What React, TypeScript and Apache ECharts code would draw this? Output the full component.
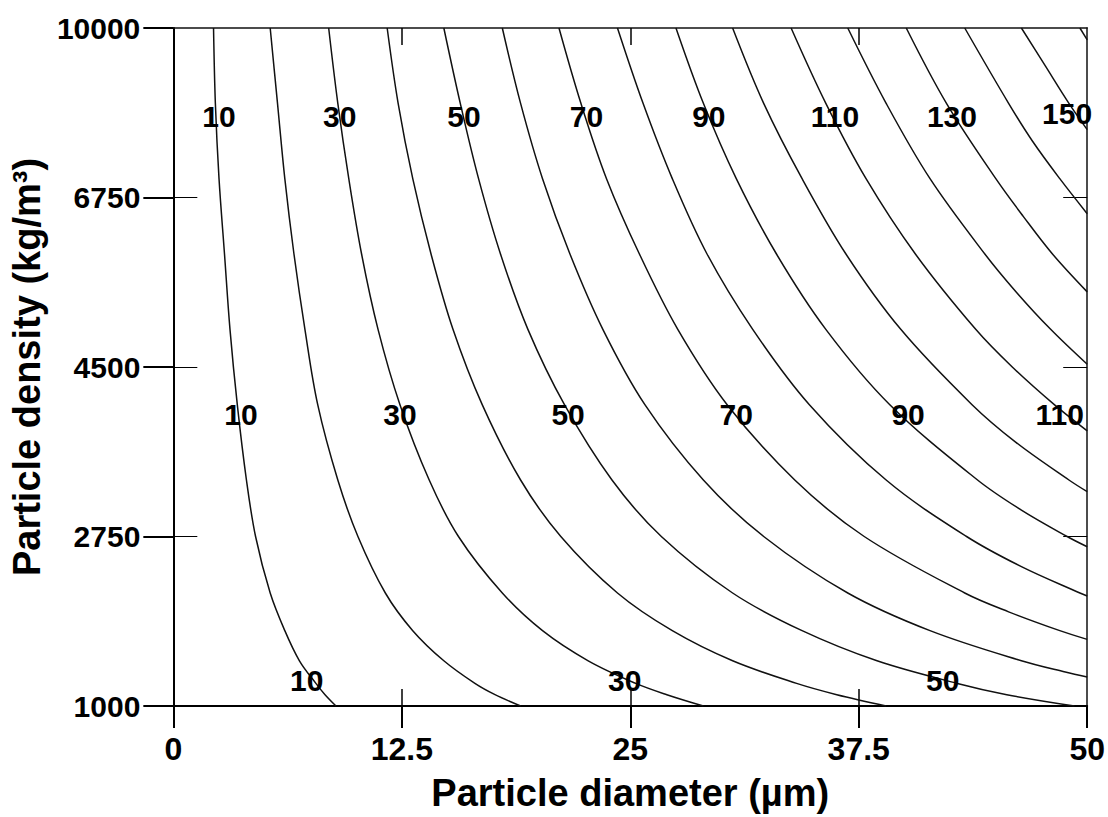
import React, { useEffect, useRef } from "react";
import * as echarts from "echarts";

// ---- axes ----
const xMin = 0;
const xMax = 50;
const xInterval = 12.5;
const innerXTicks = [12.5, 25, 37.5];
const yMin = 1000;
const yMax = 10000;
const yTickValues = [1000, 3250, 5500, 7750, 10000];
const yTickLabels = ["1000", "2750", "4500", "6750", "10000"];
const innerYTicks = [3250, 5500, 7750];

// ---- contour lines: [diameter (µm), density (kg/m³)] ----
const c10 = [[2.2, 10000], [2.3, 9000], [2.5, 8000], [2.8, 7000], [3.1, 6000], [3.5, 5000], [4.0, 4000], [4.5, 3250], [5.3, 2500], [6.1, 2000], [6.9, 1600], [7.8, 1300], [8.3, 1150], [8.9, 1000]];
const c20 = [[5.3, 10000], [5.7, 9000], [6.1, 8000], [6.6, 7000], [7.2, 6000], [7.9, 5000], [9.0, 4000], [10.1, 3250], [11.6, 2500], [13.1, 2000], [14.8, 1600], [16.5, 1300], [17.6, 1150], [19.0, 1000]];
const c30 = [[8.5, 10000], [9.0, 9000], [9.6, 8000], [10.3, 7000], [11.2, 6000], [12.4, 5000], [14.0, 4000], [15.6, 3250], [18.0, 2500], [20.2, 2000], [22.7, 1600], [25.3, 1300], [27.0, 1150], [29.0, 1000]];
const c40 = [[11.7, 10000], [12.3, 9000], [13.1, 8000], [14.1, 7000], [15.3, 6000], [16.9, 5000], [19.0, 4000], [21.2, 3250], [24.3, 2500], [27.3, 2000], [30.6, 1600], [34.1, 1300], [36.3, 1150], [39.0, 1000]];
const c50 = [[14.8, 10000], [15.7, 9000], [16.7, 8000], [17.9, 7000], [19.4, 6000], [21.4, 5000], [24.0, 4000], [26.7, 3250], [30.6, 2500], [34.4, 2000], [38.5, 1600], [42.9, 1300], [45.6, 1150], [49.3, 1000]];
const c60 = [[18.0, 10000], [19.0, 9000], [20.2, 8000], [21.7, 7000], [23.5, 6000], [25.8, 5000], [29.0, 4000], [32.3, 3250], [36.9, 2500], [41.4, 2000], [46.4, 1600], [48.8, 1450], [50, 1384]];
const c70 = [[21.1, 10000], [22.3, 9000], [23.7, 8000], [25.5, 7000], [27.6, 6000], [30.3, 5000], [34.0, 4000], [37.8, 3250], [43.3, 2500], [45.7, 2250], [48.5, 2000], [50, 1884]];
const c80 = [[24.3, 10000], [25.7, 9000], [27.3, 8000], [29.2, 7000], [31.7, 6000], [34.8, 5000], [39.0, 4000], [43.4, 3250], [46.4, 2850], [49.6, 2500], [50, 2460]];
const c90 = [[27.5, 10000], [29.0, 9000], [30.8, 8000], [33.0, 7000], [35.7, 6000], [39.2, 5000], [44.0, 4000], [46.4, 3600], [48.9, 3250], [50, 3114]];
const c100 = [[30.6, 10000], [32.3, 9000], [34.4, 8000], [36.8, 7000], [39.8, 6000], [43.7, 5000], [46.1, 4500], [49.0, 4000], [50, 3845]];
const c110 = [[33.8, 10000], [35.7, 9000], [37.9, 8000], [40.6, 7000], [43.9, 6000], [45.9, 5500], [48.2, 5000], [50, 4652]];
const c120 = [[36.9, 10000], [39.0, 9000], [41.4, 8000], [44.4, 7000], [46.1, 6500], [48.0, 6000], [50, 5536]];
const c130 = [[40.1, 10000], [42.3, 9000], [45.0, 8000], [46.5, 7500], [48.1, 7000], [50, 6497]];
const c140 = [[43.3, 10000], [45.7, 9000], [47.0, 8500], [48.5, 8000], [50, 7535]];
const c150 = [[46.4, 10000], [47.7, 9500], [49.0, 9000], [50, 8651]];
const c160 = [[49.6, 10000], [50, 9842]];

const contourLevels = [10, 20, 30, 40, 50, 60, 70, 80, 90, 100, 110, 120, 130, 140, 150, 160];
const contourLines = [c10, c20, c30, c40, c50, c60, c70, c80, c90, c100, c110, c120, c130, c140, c150, c160];

// ---- contour labels: [diameter, density, level] ----
const contourLabels = [
  [2.5, 8830, 10], [9.1, 8830, 30], [15.9, 8830, 50], [22.6, 8830, 70],
  [29.3, 8830, 90], [36.2, 8830, 110], [42.6, 8830, 130], [48.9, 8870, 150],
  [3.7, 4870, 10], [12.4, 4870, 30], [21.6, 4870, 50], [30.8, 4870, 70],
  [40.2, 4870, 90], [48.5, 4870, 110],
  [7.3, 1340, 10], [24.7, 1340, 30], [42.1, 1340, 50],
];

const FONT = "'Liberation Sans', Arial, Helvetica, sans-serif";

export default function App() {
  const ref = useRef<HTMLDivElement>(null);

  useEffect(() => {
    document.body.style.margin = "0";
    const chart = echarts.init(ref.current as HTMLDivElement, null, { renderer: "svg" });

    const lineSeries = contourLines.map((pts, i) => ({
      name: String(contourLevels[i]),
      type: "line",
      data: pts,
      showSymbol: false,
      symbol: "none",
      smooth: 0.35,
      clip: true,
      silent: true,
      lineStyle: { color: "#111", width: 1.5 },
      z: 2,
    }));

    const option: any = {
      animation: false,
      backgroundColor: "#fff",
      grid: { left: 171, right: 13, top: 28, bottom: 105, containLabel: false },
      xAxis: [
        {
          type: "value",
          min: xMin,
          max: xMax,
          interval: xInterval,
          position: "bottom",
          axisLine: { show: true, onZero: false, lineStyle: { color: "#000", width: 2 } },
          axisTick: { show: true, inside: false, length: 22, lineStyle: { color: "#000", width: 2 } },
          axisLabel: { fontSize: 32, fontWeight: "bold", fontFamily: FONT, color: "#000", margin: 27 },
          splitLine: { show: false },
          name: "Particle diameter (µm)",
          nameLocation: "middle",
          nameGap: 68,
          nameTextStyle: { fontSize: 38, fontWeight: "bold", fontFamily: FONT, color: "#000" },
        },
        {
          type: "value",
          min: xMin,
          max: xMax,
          position: "bottom",
          axisLine: { show: false },
          axisTick: { show: true, inside: true, length: 17, customValues: innerXTicks, lineStyle: { color: "#000", width: 1.5 } },
          axisLabel: { show: false },
          splitLine: { show: false },
        },
        {
          type: "value",
          min: xMin,
          max: xMax,
          position: "top",
          axisLine: { show: true, onZero: false, lineStyle: { color: "#111", width: 1.5 } },
          axisTick: { show: true, inside: true, length: 17, customValues: innerXTicks, lineStyle: { color: "#000", width: 1.5 } },
          axisLabel: { show: false },
          splitLine: { show: false },
        },
      ],
      yAxis: [
        {
          type: "value",
          min: yMin,
          max: yMax,
          position: "left",
          axisLine: { show: true, onZero: false, lineStyle: { color: "#000", width: 2 } },
          axisTick: { show: true, inside: false, length: 30, customValues: yTickValues, lineStyle: { color: "#000", width: 2 } },
          axisLabel: {
            customValues: yTickValues,
            formatter: (v: number) => {
              const i = yTickValues.indexOf(v);
              return i >= 0 ? yTickLabels[i] : "";
            },
            fontSize: 30,
            fontWeight: "bold",
            fontFamily: FONT,
            color: "#000",
            margin: 33,
          },
          splitLine: { show: false },
          name: "Particle density (kg/m³)",
          nameLocation: "middle",
          nameRotate: 90,
          nameGap: 124,
          nameTextStyle: { fontSize: 38, fontWeight: "bold", fontFamily: FONT, color: "#000" },
        },
        {
          type: "value",
          min: yMin,
          max: yMax,
          position: "left",
          axisLine: { show: false },
          axisTick: { show: true, inside: true, length: 24, customValues: innerYTicks, lineStyle: { color: "#000", width: 1 } },
          axisLabel: { show: false },
          splitLine: { show: false },
        },
        {
          type: "value",
          min: yMin,
          max: yMax,
          position: "right",
          axisLine: { show: true, onZero: false, lineStyle: { color: "#111", width: 1.5 } },
          axisTick: { show: true, inside: true, length: 24, customValues: innerYTicks, lineStyle: { color: "#000", width: 1 } },
          axisLabel: { show: false },
          splitLine: { show: false },
        },
      ],
      series: [
        ...lineSeries,
        {
          name: "labels",
          type: "custom",
          data: contourLabels,
          silent: true,
          clip: false,
          z: 5,
          renderItem: (params: any, api: any) => {
            const pt = api.coord([api.value(0), api.value(1)]);
            return {
              type: "text",
              x: pt[0],
              y: pt[1],
              style: {
                text: String(api.value(2)),
                fill: "#000",
                fontSize: 30,
                fontWeight: "bold",
                fontFamily: FONT,
                align: "center",
                verticalAlign: "middle",
              },
            };
          },
        },
      ],
    };

    chart.setOption(option);
    return () => chart.dispose();
  }, []);

  return <div ref={ref} style={{ width: 1108, height: 817 }} />;
}
